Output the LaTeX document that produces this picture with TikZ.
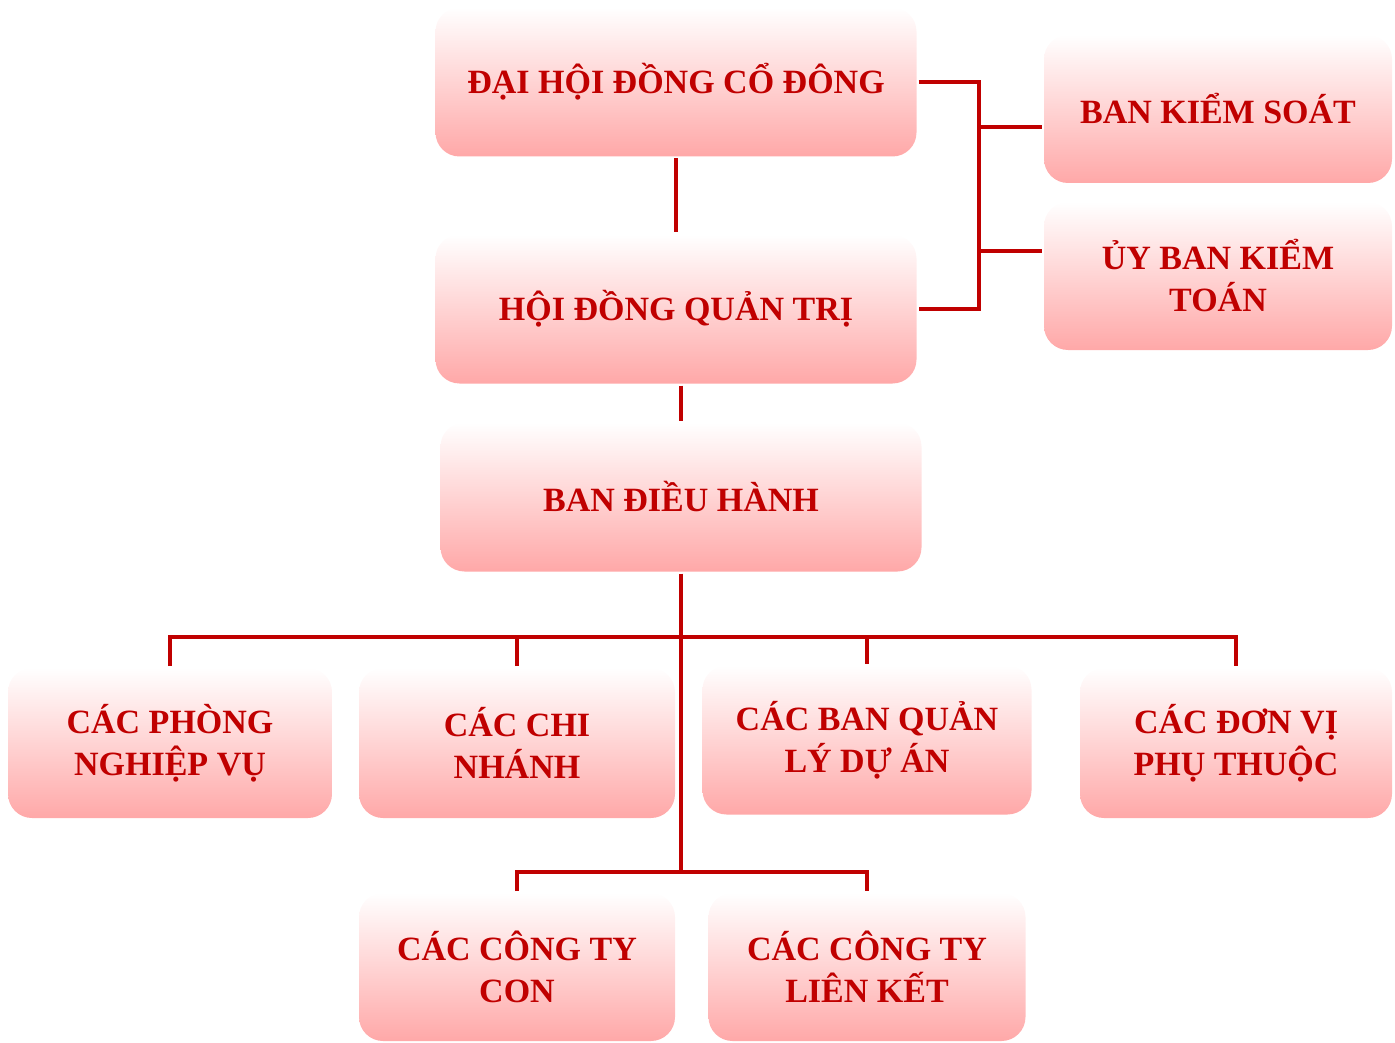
\documentclass[tikz,border=0pt]{standalone}
\usepackage{fontspec}
\setmainfont{Liberation Serif}
\usetikzlibrary{positioning}
\definecolor{darkred}{HTML}{C00000}
\definecolor{boxpink}{HTML}{FFA8A8}

\begin{document}
\begin{tikzpicture}[x=1pt, y=-1pt, line width=4pt, draw=darkred,
    unit/.style={rounded corners=24pt, top color=white, bottom color=boxpink,
        draw=none, text=darkred, align=center, minimum height=149pt,
        font=\fontsize{34}{42}\selectfont\bfseries, inner sep=0pt}]
        \useasboundingbox (0,0) rectangle (1395,1043);

        \node[unit, minimum width=481pt] (dhd) at (676,82) {ĐẠI HỘI ĐỒNG CỔ ĐÔNG};
        \node[unit, minimum width=481pt] (hdqt) at (676,309) {HỘI ĐỒNG QUẢN TRỊ};
        \node[unit, minimum width=348pt, minimum height=148pt] (bks) at (1218,109) {BAN KIỂM SOÁT};
        \node[unit, minimum width=348pt, minimum height=148pt] (ubkt) at (1218,276) {ỦY BAN KIỂM\\TOÁN};
        \node[unit, minimum width=481pt] (bdh) at (681,497) {BAN ĐIỀU HÀNH};
        \node[unit, minimum width=324pt, minimum height=150pt] (cpnv) at (170,743) {CÁC PHÒNG\\NGHIỆP VỤ};
        \node[unit, minimum width=316pt, minimum height=150pt] (ccn) at (517,743) {CÁC CHI\\NHÁNH};
        \node[unit, minimum width=329pt] (cbql) at (867,740) {CÁC BAN QUẢN\\LÝ DỰ ÁN};
        \node[unit, minimum width=312pt, minimum height=150pt] (cdv) at (1236,743) {CÁC ĐƠN VỊ\\PHỤ THUỘC};
        \node[unit, minimum width=316pt, minimum height=148pt] (ctc) at (517,967) {CÁC CÔNG TY\\CON};
        \node[unit, minimum width=317pt, minimum height=148pt] (ctlk) at (867,967) {CÁC CÔNG TY\\LIÊN KẾT};

        \coordinate (ks) at (977,127);
        \coordinate (kt) at (977,251);
        \coordinate (bus) at (681,637);
        \coordinate (low) at (681,872);

        \path (dhd) edge (hdqt)
              (hdqt.south -| bdh.north) edge (bdh.north)
              (bdh.south) edge (low)
              (ks) edge (ks -| bks.west)
              (kt) edge (kt -| ubkt.west);
        \draw (dhd.east) -- ++(60,0) |- (hdqt.east);
        \draw (cpnv.north) |- (bus) -| (cdv.north);
        \draw (ccn.north) -- (ccn.north |- bus);
        \draw (cbql.north) -- (cbql.north |- bus);
        \draw (ctc.north) |- (low) -| (ctlk.north);
    \end{tikzpicture}
\end{document}
